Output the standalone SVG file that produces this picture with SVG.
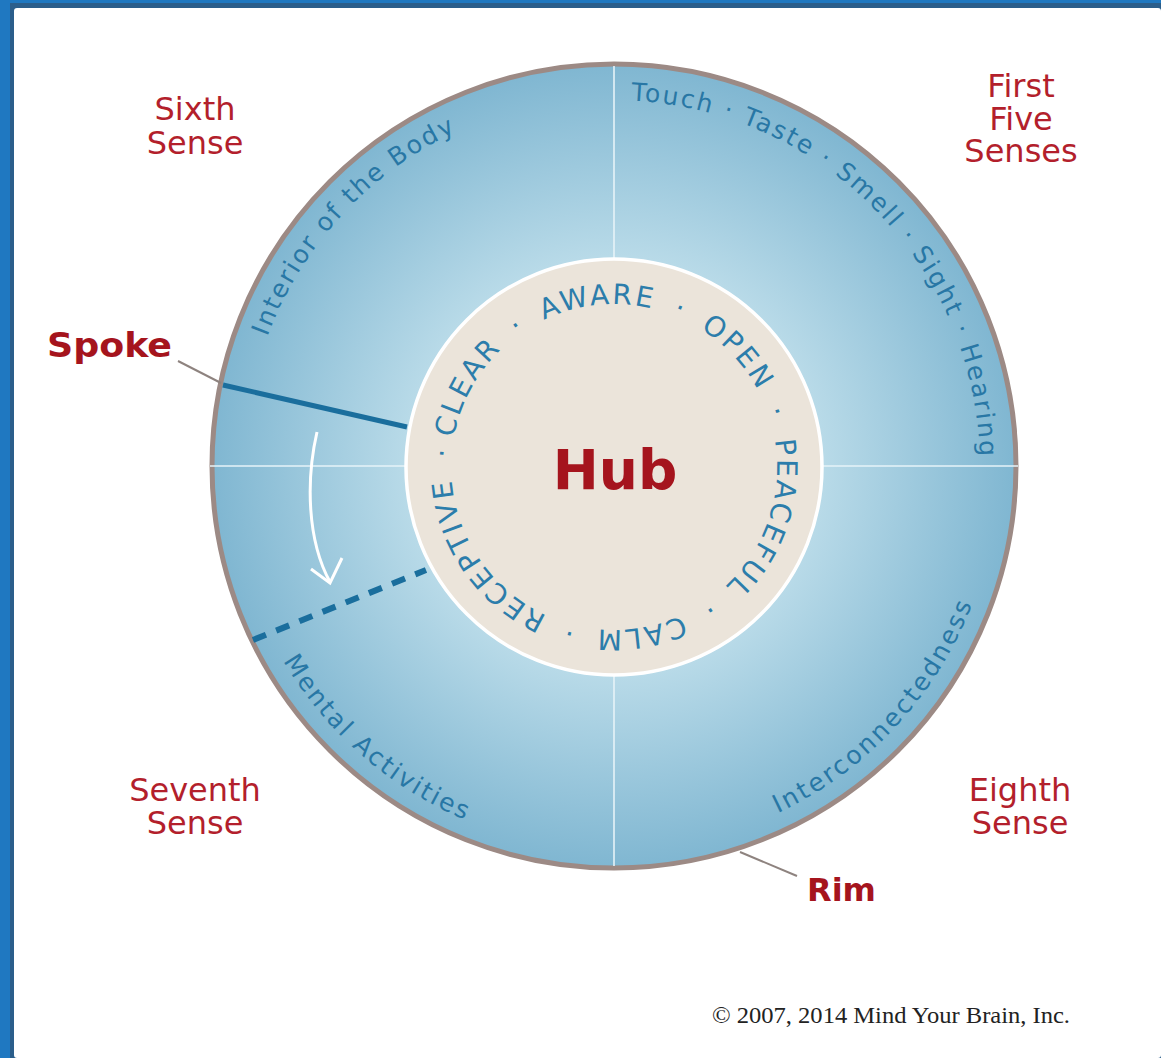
<svg xmlns="http://www.w3.org/2000/svg" width="1161" height="1058" viewBox="0 0 1161 1058">
  <defs>
    <radialGradient id="ringGrad" cx="614" cy="466" r="404" gradientUnits="userSpaceOnUse">
      <stop offset="0" stop-color="#d2e9f1"/>
      <stop offset="0.52" stop-color="#b8dae8"/>
      <stop offset="1" stop-color="#7fb6d1"/>
    </radialGradient>
    <path id="hubPath" d="M 451,467 A 163 163 0 0 1 777,467 A 163 163 0 0 1 451,467 A 163 163 0 0 1 777,467"/>
    <path id="pInterior" d="M 260.7,576.0 A 370 370 0 0 1 695.3,105.1"/>
    <path id="pSenses" d="M 435.2,146.7 A 366 366 0 0 1 928.5,653.1"/>
    <path id="pInter" d="M 529.3,840.5 A 384 384 0 0 0 980.7,352.1"/>
    <path id="pMental" d="M 237.1,392.7 A 384 384 0 0 0 739.0,829.1"/>
  </defs>
  <style>
    .lbl { font-family: "DejaVu Sans", "Liberation Sans", sans-serif; font-size: 32px; fill: #b31f2c; text-anchor: middle; }
    .bold { font-family: "DejaVu Sans", "Liberation Sans", sans-serif; font-weight: bold; fill: #a5141d; }
    .ring { font-family: "DejaVu Sans", "Liberation Sans", sans-serif; font-size: 25px; fill: #2877a5; }
    .hubt { font-family: "DejaVu Sans", "Liberation Sans", sans-serif; font-size: 28px; fill: #2c7dab; letter-spacing: 2.5px; }
    .div { stroke: #e6f3f8; stroke-width: 1.6; }
    .spoke { stroke: #1a6e9d; fill: none; }
    .leader { stroke: #8e837f; stroke-width: 2; fill: none; }
  </style>

  <!-- frame -->
  <rect x="0" y="0" width="1161" height="1058" fill="#1f78c1"/>
  <rect x="10" y="3" width="1151" height="1055" fill="#2b5e8b"/>
  <rect x="14" y="8" width="1147" height="1050" rx="3" fill="#ffffff"/>

  <!-- wheel -->
  <g id="rim">
    <circle cx="614" cy="466" r="402" fill="url(#ringGrad)" stroke="#9c8a85" stroke-width="5"/>
  </g>
  <g id="dividers">
    <line class="div" x1="210" y1="466" x2="406" y2="466"/>
    <line class="div" x1="822" y1="466" x2="1018" y2="466"/>
    <line class="div" x1="614" y1="66" x2="614" y2="258"/>
    <line class="div" x1="614" y1="676" x2="614" y2="866"/>
  </g>

  <g id="ring-texts">
    <text class="ring" letter-spacing="2.2"><textPath href="#pInterior" startOffset="50%" text-anchor="middle">Interior of the Body</textPath></text>
    <text class="ring" letter-spacing="2.2"><textPath href="#pSenses" startOffset="50%" text-anchor="middle">Touch · Taste · Smell · Sight · Hearing</textPath></text>
    <text class="ring" letter-spacing="2.7"><textPath href="#pInter" startOffset="50%" text-anchor="middle">Interconnectedness</textPath></text>
    <text class="ring" letter-spacing="2.4"><textPath href="#pMental" startOffset="50%" text-anchor="middle">Mental Activities</textPath></text>
  </g>

  <g id="hub">
    <circle cx="614" cy="467" r="208" fill="#ebe4da" stroke="#ffffff" stroke-width="3.5"/>
    <text class="bold" x="615" y="489" font-size="55" text-anchor="middle">Hub</text>
    <text class="hubt"><textPath href="#hubPath" startOffset="29">CLEAR&#160;&#8201;&#183;&#160;&#8201;AWARE&#160;&#8201;&#183;&#160;&#8201;OPEN&#160;&#8201;&#183;&#160;&#8201;PEACEFUL&#160;&#8201;&#183;&#160;&#8201;CALM&#160;&#8201;&#183;&#160;&#8201;RECEPTIVE&#160;&#8201;&#183;</textPath></text>
  </g>

  <g id="connectors">
    <line id="spoke-solid" class="spoke" x1="223" y1="385" x2="407" y2="427" stroke-width="5"/>
    <line id="spoke-dashed" class="spoke" x1="253" y1="640" x2="426" y2="570" stroke-width="6" stroke-dasharray="14 11"/>
    <line id="spoke-leader" class="leader" x1="178" y1="361" x2="221" y2="383"/>
    <line id="rim-leader" class="leader" x1="740" y1="852" x2="797" y2="876"/>
    <path id="rotate-arrow" d="M 317,432 C 306,480 307,540 330,582" fill="none" stroke="#ffffff" stroke-width="3"/>
    <path id="rotate-arrowhead" d="M 311,569 L 330,583 L 342,558" fill="none" stroke="#ffffff" stroke-width="3" stroke-linejoin="miter"/>
  </g>

  <g id="label-sixth">
    <text class="lbl" x="195" y="120">Sixth</text>
    <text class="lbl" x="195" y="154">Sense</text>
  </g>
  <g id="label-first-five">
    <text class="lbl" x="1021" y="97">First</text>
    <text class="lbl" x="1021" y="130">Five</text>
    <text class="lbl" x="1021" y="162">Senses</text>
  </g>
  <g id="label-seventh">
    <text class="lbl" x="195" y="801">Seventh</text>
    <text class="lbl" x="195" y="834">Sense</text>
  </g>
  <g id="label-eighth">
    <text class="lbl" x="1020" y="801">Eighth</text>
    <text class="lbl" x="1020" y="834">Sense</text>
  </g>
  <g id="label-spoke">
    <text class="bold" x="47" y="357" font-size="33" textLength="125" lengthAdjust="spacingAndGlyphs">Spoke</text>
  </g>
  <g id="label-rim">
    <text class="bold" x="807" y="901" font-size="32">Rim</text>
  </g>
  <text x="712" y="1023" font-family="Liberation Serif, serif" font-size="24" fill="#222222" textLength="358" lengthAdjust="spacingAndGlyphs">© 2007, 2014 Mind Your Brain, Inc.</text>
</svg>
